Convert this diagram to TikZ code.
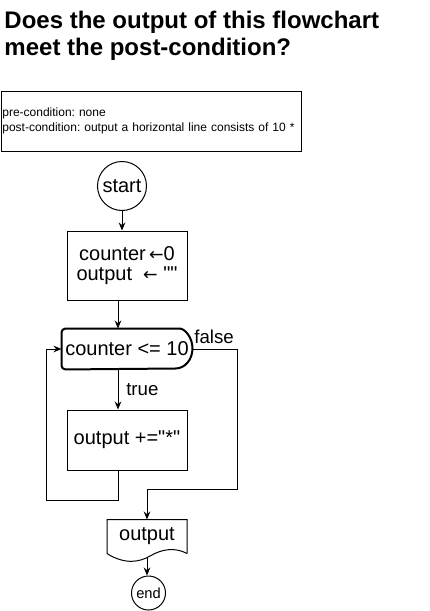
\documentclass[tikz,border=0pt]{standalone}
\usepackage{fontspec}
\setmainfont{Liberation Sans}[Ligatures=TeXOff]
\newfontfamily\arrowfont{DejaVu Sans}
\usetikzlibrary{arrows.meta}
\frenchspacing

\begin{document}
\begin{tikzpicture}[x=0.75pt, y=-0.75pt, line width=0.75pt,
    block/.style={rectangle, draw, minimum width=90pt, inner sep=0pt, align=center, font=\fontsize{15}{15}\selectfont},
    term/.style={circle, draw, inner sep=0pt},
    flow/.style={-{Stealth[length=6pt, width=5pt]}}]
    \useasboundingbox (0,0) rectangle (429,611);

    %title and conditions
    \node[anchor=north west, inner sep=0pt, align=left, font=\fontsize{18}{20.25}\selectfont\bfseries] (title) at (4,10.5) {Does the output of this flowchart\\meet the post-condition?};
    \node[draw, anchor=north west, minimum width=225pt, minimum height=45pt, inner xsep=1pt, inner ysep=0pt, text width=223pt, align=left, font=\fontsize{9}{10.9}\selectfont] (cond) at (0.5,90.5) {pre-condition: none\\post-condition: output a horizontal line consists of 10 *};

    %nodes
    \node[term, minimum size=36.75pt, font=\fontsize{15}{15}\selectfont] (start) at (122,186) {start};
    \node[block, minimum height=51.75pt] (init) at (127,265.5) {counter\,{\arrowfont\fontsize{13}{13}\selectfont ←}0\\output\ \ {\arrowfont\fontsize{13}{13}\selectfont ←}\ ""};
    \node[minimum width=97.5pt, minimum height=30pt, inner sep=0pt, font=\fontsize{15}{15}\selectfont] (dec) at (127,349) {counter <= 10};
    \draw[line width=1.5pt] ([xshift=-12.75pt]dec.north east) arc[start angle=-90, end angle=90, x radius=17, y radius=20] [rounded corners=3pt] -- (dec.south west) -- (dec.north west) -- cycle;
    \node[block, minimum height=45pt] (body) at (127,440) {output +="*"};
    \node[minimum width=59.25pt, minimum height=24.75pt, inner sep=0pt, font=\fontsize{15}{15}\selectfont] (out) at (147,536.5) {output};
    \draw (out.south east) -- (out.north east) -- (out.north west) -- (out.south west) .. controls (125,565) and (140,562) .. (150,556) .. controls (162,549) and (175,547) .. (out.south east);
    \node[term, minimum size=25.5pt, font=\fontsize{11}{11}\selectfont] (end) at (148.5,593) {end};

    %edges
    \draw[flow] (start) -- (start |- init.north);
    \draw[flow] ([xshift=-6.75pt]init.south) -- ([xshift=-6.75pt]dec.north);
    \draw[flow] ([xshift=-6.75pt]dec.south) -- ([xshift=-6.75pt]body.north) node[midway, right=2.5pt, font=\fontsize{14}{14}\selectfont] {true};
    \draw[flow] (dec.east) node[anchor=base west, xshift=1pt, yshift=4.5pt, inner sep=0pt, font=\fontsize{14}{14}\selectfont] {false} -- ++(45,0) |- ([yshift=22.5pt]out.north) -- (out.north);
    \draw[flow] ([xshift=-6.75pt]body.south) -- ++(0,30) -| ([xshift=-11.25pt]dec.west) -- (dec.west);
    \draw[flow] ([yshift=-3pt]out.south) -- (out.south |- end.north);
\end{tikzpicture}
\end{document}
